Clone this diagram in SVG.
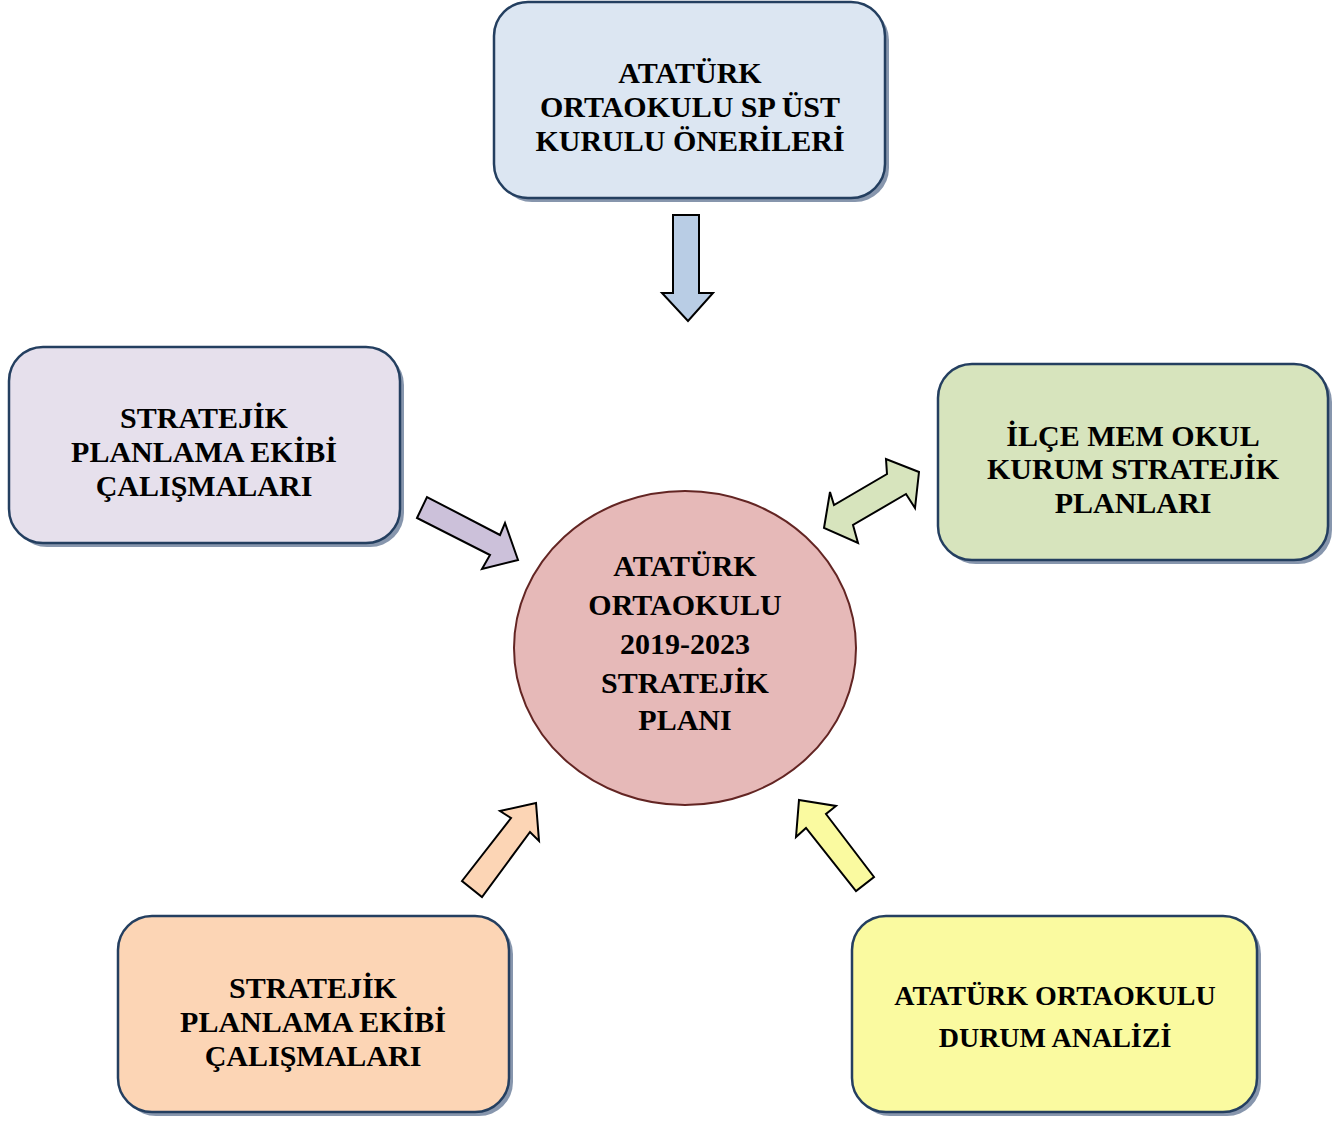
<svg xmlns="http://www.w3.org/2000/svg" width="1340" height="1122" viewBox="0 0 1340 1122">
<defs>
<style>
.box{stroke:#243f60;stroke-width:2.5}
.shadow{fill:#8796ad}
.t{font-family:"Liberation Serif","Times New Roman",serif;font-weight:bold;font-size:30px;fill:#000;text-anchor:middle}
.arr{stroke:#000;stroke-width:2;stroke-linejoin:miter}
</style>
</defs>
<rect width="1340" height="1122" fill="#fff"/>

<g id="connectors">
<polygon class="arr" fill="#b9cde5" points="673,215 699,215 699,293 713,293 688,321 662,293 673,293"/>
<polygon class="arr" fill="#ccc1da" points="417,518 427,497 500,535 505,523 518,560 482,569 490,555"/>
<polygon class="arr" fill="#d7e4bd" points="824,528 830,492 834,505 887,474 886,459 919,472 915,508 906,494 853,525 858,543"/>
<polygon class="arr" fill="#fcd5b5" points="462,881 511,818 500,811 536,803 539,841 530,832 482,897"/>
<polygon class="arr" fill="#fafaa0" points="799,800 836,806 826,814 874,877 856,891 806,828 796,837"/>
</g>

<g id="node-top">
<rect class="shadow" x="498" y="6" width="391" height="196" rx="34"/>
<rect class="box" x="494" y="2" width="391" height="196" rx="34" fill="#dce6f2"/>
<text class="t" x="690" y="83">ATATÜRK</text>
<text class="t" x="690" y="117">ORTAOKULU SP ÜST</text>
<text class="t" x="690" y="151">KURULU ÖNERİLERİ</text>
</g>

<g id="node-left">
<rect class="shadow" x="13" y="351" width="391" height="196" rx="34"/>
<rect class="box" x="9" y="347" width="391" height="196" rx="34" fill="#e6e0ec"/>
<text class="t" x="204" y="428">STRATEJİK</text>
<text class="t" x="204" y="462">PLANLAMA EKİBİ</text>
<text class="t" x="204" y="496">ÇALIŞMALARI</text>
</g>

<g id="node-right">
<rect class="shadow" x="942" y="368" width="390" height="196" rx="34"/>
<rect class="box" x="938" y="364" width="390" height="196" rx="34" fill="#d7e4bd"/>
<text class="t" x="1133" y="446">İLÇE MEM OKUL</text>
<text class="t" x="1133" y="479">KURUM STRATEJİK</text>
<text class="t" x="1133" y="513">PLANLARI</text>
</g>

<g id="node-center">
<ellipse cx="685" cy="648" rx="171" ry="157" fill="#e6b9b8" stroke="#632523" stroke-width="2"/>
<text class="t" x="685" y="576">ATATÜRK</text>
<text class="t" x="685" y="615">ORTAOKULU</text>
<text class="t" x="685" y="654">2019-2023</text>
<text class="t" x="685" y="693">STRATEJİK</text>
<text class="t" x="685" y="730">PLANI</text>
</g>

<g id="node-bottom-left">
<rect class="shadow" x="122" y="920" width="391" height="196" rx="34"/>
<rect class="box" x="118" y="916" width="391" height="196" rx="34" fill="#fcd5b5"/>
<text class="t" x="313" y="998">STRATEJİK</text>
<text class="t" x="313" y="1032">PLANLAMA EKİBİ</text>
<text class="t" x="313" y="1066">ÇALIŞMALARI</text>
</g>

<g id="node-bottom-right">
<rect class="shadow" x="856" y="920" width="405" height="196" rx="34"/>
<rect class="box" x="852" y="916" width="405" height="196" rx="34" fill="#fafaa0"/>
<text class="t" x="1055" y="1005" style="font-size:28px">ATATÜRK ORTAOKULU</text>
<text class="t" x="1055" y="1047" style="font-size:28px">DURUM ANALİZİ</text>
</g>
</svg>
